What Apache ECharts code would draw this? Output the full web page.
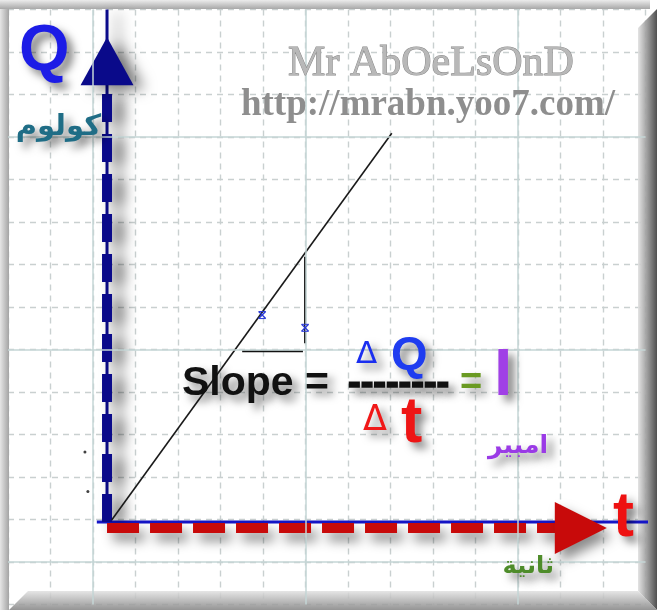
<!DOCTYPE html>
<html><head><meta charset="utf-8">
<script src="https://cdn.jsdelivr.net/npm/echarts@6/dist/echarts.min.js"></script>
<style>html,body{margin:0;padding:0;background:#fff}#c{width:657px;height:610px}</style>
</head><body><div id="c"></div>
<script>
// ---- data (grid units: one grid square = 1) ----
const chargeLine = [[2.44, 1.99], [9.03, 11.09]];      // Q against t
const slopeRun   = [[5.51, 5.96], [6.94, 5.96]];       // Δt leg
const slopeRise  = [[6.99, 8.18], [6.99, 6.15]];       // ΔQ leg
const slopeMarks = [[5.98, 6.81], [6.99, 6.51]];       // small blue crosses
const strayDots  = [[1.81, 3.59], [1.88, 2.66]];
const qAxisBody  = [[2.33, 1.94], [2.33, 12.22]];      // dashed Q axis
const qAxisThin  = [[2.33, 1.94], [2.33, 14]];
const qAxisTip   = [[2.33, 13.35]];
const tAxisBody  = [[2.33, 1.80], [12.87, 1.80]];      // dashed t axis
const tAxisTip   = [[14.09, 1.80]];
const tAxisBlue  = [[2.09, 1.94], [15.27, 1.94]];
const majorX = [2, 7, 12];
const majorY = [1, 6, 11];

const chart = echarts.init(document.getElementById('c'));

function crossRender(params, api) {
  const p = api.coord([api.value(0), api.value(1)]);
  const s = 3.5;
  return {type: 'group', children: [
    {type: 'line', shape: {x1: p[0] - s, y1: p[1] - s, x2: p[0] + s, y2: p[1] + s}, style: {stroke: '#2a3ad8', lineWidth: 1.3}},
    {type: 'line', shape: {x1: p[0] + s, y1: p[1] - s, x2: p[0] - s, y2: p[1] + s}, style: {stroke: '#2a3ad8', lineWidth: 1.3}},
    {type: 'line', shape: {x1: p[0] - s, y1: p[1] - s, x2: p[0] + s, y2: p[1] - s}, style: {stroke: '#2a3ad8', lineWidth: 1}},
    {type: 'line', shape: {x1: p[0] - s, y1: p[1] + s, x2: p[0] + s, y2: p[1] + s}, style: {stroke: '#2a3ad8', lineWidth: 1}}
  ]};
}

function T(text, x, base, size, o) {
  o = o || {};
  const fam = o.family || "'Liberation Sans', Arial, sans-serif";
  const style = {
    text: text, x: x, y: base - 0.346 * size,
    font: (o.weight || 'bold') + ' ' + size + 'px ' + fam,
    fill: o.fill || '#000', align: o.align || 'left', verticalAlign: 'middle'
  };
  if (o.stroke) { style.stroke = o.stroke; style.lineWidth = o.lw || 1; }
  if (o.shadow !== false) {
    const c = o.shc || 'rgba(0,0,0,0.5)', b = o.shb || 8;
    const sx = o.shx == null ? 6 : o.shx, sy = o.shy == null ? 6 : o.shy;
    style.textShadowColor = c; style.textShadowBlur = b;
    style.textShadowOffsetX = sx; style.textShadowOffsetY = sy;
    style.shadowColor = c; style.shadowBlur = b;
    style.shadowOffsetX = sx; style.shadowOffsetY = sy;
  }
  return {type: 'text', z: 10, style: style};
}
const AR = "'DejaVu Sans', 'Noto Sans', sans-serif";
const SERIF = "'Liberation Serif', 'Times New Roman', serif";
const DJ = "'DejaVu Sans', sans-serif";

const gridLine = {show: true, lineStyle: {color: '#c9d0d0', width: 1.4, type: [6, 5]}};
const navy = '#0a0a8a', red = '#c80a0a';
const navyShadow = {shadowBlur: 14, shadowColor: 'rgba(0,0,0,0.5)', shadowOffsetX: 11, shadowOffsetY: 4};
const redShadow = {shadowBlur: 12, shadowColor: 'rgba(0,0,0,0.45)', shadowOffsetX: 6, shadowOffsetY: 8};

chart.setOption({
  backgroundColor: '#ffffff',
  animation: false,
  grid: {left: 8, top: 9.5, right: 11.5, bottom: 5.5},
  xAxis: {type: 'value', min: 0, max: 15, interval: 1,
    axisLine: {show: false}, axisTick: {show: false}, axisLabel: {show: false}, splitLine: gridLine},
  yAxis: {type: 'value', min: 0, max: 14, interval: 1,
    axisLine: {show: false}, axisTick: {show: false}, axisLabel: {show: false}, splitLine: gridLine},
  graphic: [
    {type: 'rect', z: 1.2, shape: {x: 0, y: 0, width: 9, height: 610},
      style: {fill: new echarts.graphic.LinearGradient(0, 0, 1, 0, [{offset: 0, color: '#e6e6e6'}, {offset: 1, color: '#a4a4a4'}])}},
    {type: 'rect', z: 1.2, shape: {x: 0, y: 0, width: 650, height: 9},
      style: {fill: new echarts.graphic.LinearGradient(0, 0, 0, 1, [{offset: 0, color: '#ececec'}, {offset: 1, color: '#a8a8a8'}])}},
    {type: 'polygon', z: 1.2, shape: {points: [[638, 28], [657, 9], [657, 610], [638, 591]]},
      style: {fill: new echarts.graphic.LinearGradient(0, 0, 1, 0, [{offset: 0, color: 'rgba(225,225,225,0.9)'}, {offset: 1, color: 'rgba(70,70,70,0.95)'}])}},
    {type: 'polygon', z: 1.2, shape: {points: [[9, 610], [28, 591], [638, 591], [657, 610]]},
      style: {fill: new echarts.graphic.LinearGradient(0, 0, 0, 1, [{offset: 0, color: 'rgba(225,225,225,0.85)'}, {offset: 1, color: 'rgba(130,130,130,0.85)'}])}},

    T('Mr AbOeLsOnD', 431, 79, 42, {weight: 'normal', family: SERIF, fill: '#b8b8b8', stroke: '#8a8a8a', lw: 1, shadow: false, align: 'center'}),
    T('http://mrabn.yoo7.com/', 428, 118, 37, {family: SERIF, fill: '#8e8e8e', shadow: false, align: 'center'}),
    T('Q', 19, 75, 65, {fill: '#1c1ce6'}),
    T('كولوم', 101, 138, 29, {family: AR, fill: '#1f6d86', align: 'right'}),
    T('Slope =', 182, 398, 41, {fill: '#111111'}),
    T('Δ', 356, 366, 31, {weight: 'normal', family: DJ, fill: '#1a2ef0'}),
    T('Q', 391, 372, 47, {fill: '#1e3cf0'}),
    T('--------', 348, 398, 38, {fill: '#111111', stroke: '#111111', lw: 1.5}),
    T('=', 460, 397, 38, {fill: '#6a9a22'}),
    T('I', 494, 400, 66, {fill: '#a040e6'}),
    T('Δ', 363, 433, 35, {weight: 'normal', family: DJ, fill: '#f01818'}),
    T('t', 401, 447, 64, {fill: '#ee1515'}),
    T('امبير', 548, 455, 25, {family: AR, fill: '#9a3ae6', align: 'right'}),
    T('t', 613, 540, 63, {fill: '#ee1111'}),
    T('ثانية', 554, 575, 24, {family: AR, fill: '#4e8c2a', align: 'right'})
  ],
  series: [
    {type: 'scatter', z: 1, data: strayDots, symbolSize: 3, itemStyle: {color: '#111'},
      markLine: {silent: true, symbol: 'none', label: {show: false}, animation: false,
        lineStyle: {color: '#c4d6d6', width: 1.5, type: 'solid'},
        data: majorX.map(v => ({xAxis: v})).concat(majorY.map(v => ({yAxis: v})))}},
    {type: 'line', z: 2, data: qAxisThin, symbol: 'none', clip: false,
      lineStyle: Object.assign({color: navy, width: 3}, navyShadow)},
    {type: 'line', z: 3, data: qAxisBody, symbol: 'none', clip: false,
      lineStyle: Object.assign({color: navy, width: 10, type: [28, 12]}, navyShadow)},
    {type: 'scatter', z: 3, data: qAxisTip, symbol: 'triangle', symbolSize: [53, 48], symbolOffset: [0, 24],
      itemStyle: Object.assign({color: navy, opacity: 1}, navyShadow)},
    {type: 'line', z: 2, data: tAxisBlue, symbol: 'none', clip: false,
      lineStyle: {color: '#1515c8', width: 3}},
    {type: 'line', z: 3, data: tAxisBody, symbol: 'none', clip: false,
      lineStyle: Object.assign({color: red, width: 10, type: [32, 11]}, redShadow)},
    {type: 'scatter', z: 3, data: tAxisTip, symbol: 'path://M0,0L52,26L0,52Z', symbolSize: [52, 52], symbolOffset: [-26, 0],
      itemStyle: Object.assign({color: red, opacity: 1}, redShadow)},
    {type: 'line', z: 4, data: chargeLine, symbol: 'none', lineStyle: {color: '#1a1a1a', width: 1.6}},
    {type: 'line', z: 4, data: slopeRun, symbol: 'none', lineStyle: {color: '#111', width: 2}},
    {type: 'line', z: 4, data: slopeRise, symbol: 'none', lineStyle: {color: '#111', width: 2}},
    {type: 'custom', z: 5, data: slopeMarks, encode: {x: 0, y: 1}, renderItem: crossRender}
  ]
});
</script>
</body></html>
